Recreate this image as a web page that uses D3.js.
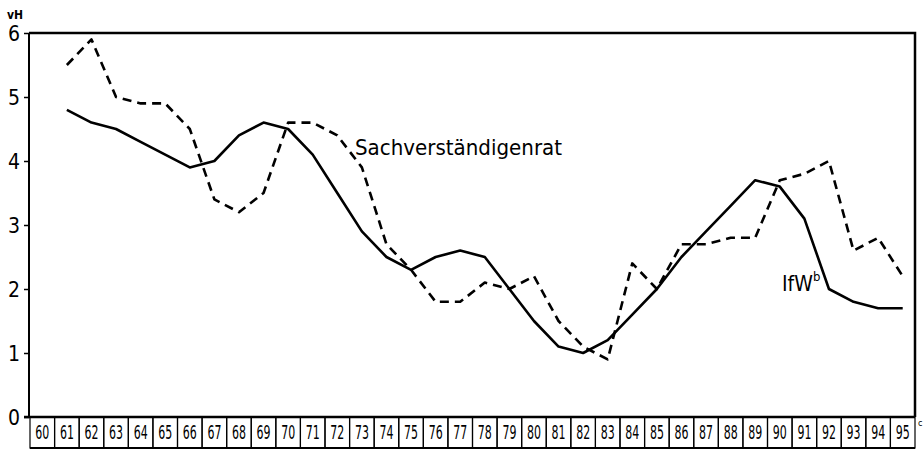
<!DOCTYPE html>
<html>
<head>
<meta charset="utf-8">
<script src="https://cdn.jsdelivr.net/npm/d3@7"></script>
<style>
body{margin:0;background:#fff;}
svg{display:block;}
text{font-family:"DejaVu Sans Condensed","DejaVu Sans",sans-serif;fill:#000;}
</style>
</head>
<body>
<div id="canvas"></div>
<script>
// data
var years = ['60','61','62','63','64','65','66','67','68','69','70','71','72','73','74','75','76','77',
             '78','79','80','81','82','83','84','85','86','87','88','89','90','91','92','93','94','95'];
var ifwYears = years.slice(1);
var ifw = [4.8,4.6,4.5,4.3,4.1,3.9,4.0,4.4,4.6,4.5,4.1,3.5,2.9,2.5,2.3,2.5,2.6,2.5,2.0,1.5,1.1,1.0,
           1.2,1.6,2.0,2.5,2.9,3.3,3.7,3.6,3.1,2.0,1.8,1.7,1.7];
var svrYears = years.slice(1);
var svr = [5.5,5.9,5.0,4.9,4.9,4.5,3.4,3.2,3.5,4.6,4.6,4.4,3.9,2.7,2.3,1.8,1.8,2.1,2.0,2.2,1.5,1.1,
           0.9,2.4,2.0,2.7,2.7,2.8,2.8,3.7,3.8,4.0,2.6,2.8,2.2];
var yTicks = [0,1,2,3,4,5,6];

var W = 924, H = 450;
var m = {t:33, r:9, b:33, l:30};

var svg = d3.select('#canvas').append('svg')
    .attr('width', W).attr('height', H);

var scaleX = d3.scaleBand().domain(years).range([m.l, W - m.r]).padding(0);
var scaleY = d3.scaleLinear().domain([0,6]).range([H - m.b, m.t]);
var bw = scaleX.bandwidth();
var y0 = scaleY(0), y6 = scaleY(6);

// frame
svg.append('path')
    .attr('d', 'M' + (m.l-1) + ',' + y6 + 'H' + (W - m.r) + 'V' + y0)
    .attr('fill','none').attr('stroke','#000').attr('stroke-width',2.5);
svg.append('line')
    .attr('x1', m.l-1).attr('x2', m.l-1).attr('y1', y6).attr('y2', y0)
    .attr('stroke','#000').attr('stroke-width',2);

// y axis
var axisY = d3.axisLeft(scaleY).tickValues(yTicks).tickSize(5).tickPadding(4)
    .tickFormat(d3.format('d'));
var gy = svg.append('g').attr('transform','translate(' + (m.l-1) + ',0)').call(axisY);
gy.select('.domain').remove();
gy.selectAll('.tick line').attr('stroke','#000').attr('stroke-width',1.5);
gy.selectAll('.tick text').attr('font-size',21).attr('dy','0.36em')
    .style('font-family','"DejaVu Sans Condensed","DejaVu Sans",sans-serif');

svg.append('text').attr('x',7).attr('y',19).attr('font-size',12).attr('font-weight','bold').text('vH');

// year boxes
svg.append('line').attr('x1', m.l-6).attr('x2', W - m.r).attr('y1', y0).attr('y2', y0)
    .attr('stroke','#000').attr('stroke-width',2.5);
svg.selectAll('.box').data(years).enter().append('rect')
    .attr('class','box')
    .attr('x', function(d){return scaleX(d);})
    .attr('y', y0)
    .attr('width', bw)
    .attr('height', 31)
    .attr('fill','none').attr('stroke','#000').attr('stroke-width',1.2);
svg.append('line').attr('x1', m.l).attr('x2', W - m.r).attr('y1', y0 + 31).attr('y2', y0 + 31)
    .attr('stroke','#000').attr('stroke-width',2);

var axisX = d3.axisBottom(scaleX).tickSize(0).tickPadding(0);
var gx = svg.append('g').attr('transform','translate(0,' + (y0 + 7) + ')').call(axisX);
gx.select('.domain').remove();
gx.selectAll('.tick text').attr('font-size',20).attr('dy','0.75em')
    .attr('textLength', 14).attr('lengthAdjust','spacingAndGlyphs')
    .style('font-family','"DejaVu Sans Condensed","DejaVu Sans",sans-serif');
// footnote mark on the last year
svg.append('text').attr('x', W - m.r + 3).attr('y', y0 + 9)
    .attr('font-size',9).text('c');

// lines
var lineGen = function(xs){
    return d3.line()
        .x(function(d,i){return scaleX(xs[i]) + bw/2;})
        .y(function(d){return scaleY(d);});
};
svg.append('path').datum(svr)
    .attr('d', lineGen(svrYears))
    .attr('fill','none').attr('stroke','#000').attr('stroke-width',2.6)
    .attr('stroke-dasharray','9,6').attr('stroke-linejoin','round');
svg.append('path').datum(ifw)
    .attr('d', lineGen(ifwYears))
    .attr('fill','none').attr('stroke','#000').attr('stroke-width',2.6)
    .attr('stroke-linejoin','round');

// labels
svg.append('text').attr('x',355).attr('y',155).attr('font-size',21)
    .attr('textLength',207).attr('lengthAdjust','spacingAndGlyphs')
    .text('Sachverständigenrat');
var lab = svg.append('text').attr('x',782).attr('y',291).attr('font-size',21);
lab.append('tspan').text('IfW');
lab.append('tspan').attr('dy',-10).attr('font-size',13).text('b');
</script>
</body>
</html>
